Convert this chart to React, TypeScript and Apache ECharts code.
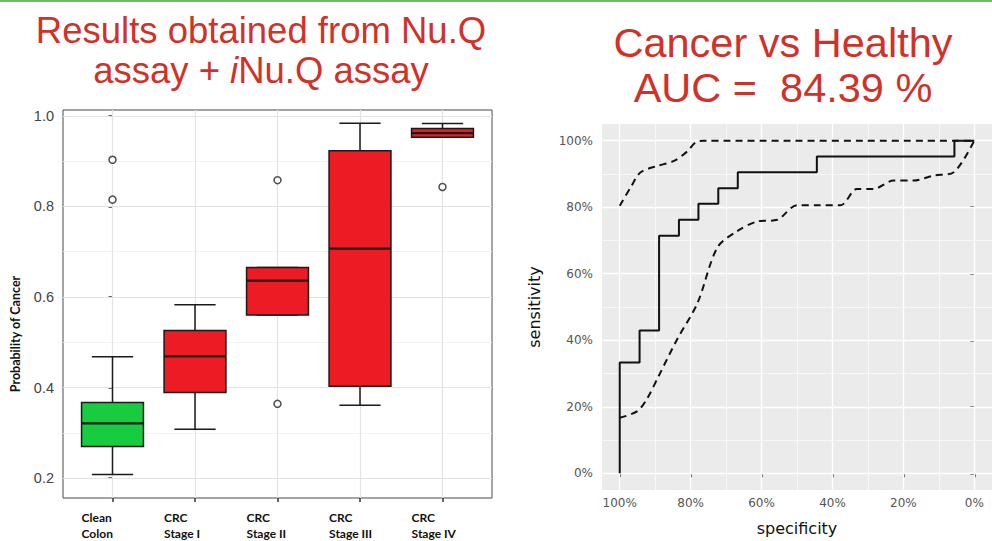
import React, { useEffect, useRef } from 'react';
import * as echarts from 'echarts';

// ---------- Left panel: box plot ----------
const groups = ['Clean\nColon', 'CRC\nStage I', 'CRC\nStage II', 'CRC\nStage III', 'CRC\nStage IV'];
const whiskerLow = [0.208, 0.308, 0.56, 0.361, 0.953];
const q1 = [0.27, 0.389, 0.56, 0.403, 0.953];
const median = [0.321, 0.469, 0.636, 0.707, 0.962];
const q3 = [0.367, 0.526, 0.665, 0.923, 0.972];
const whiskerHigh = [0.468, 0.583, 0.665, 0.984, 0.983];
const boxColors = ['#17cc3e', '#ed1c24', '#ed1c24', '#ed1c24', '#ed1c24'];
const outlierGroup = [0, 0, 2, 2, 4];
const outlierValue = [0.903, 0.815, 0.858, 0.364, 0.843];
const probTicks = [0.2, 0.4, 0.6, 0.8, 1.0];
const probMinor = [0.3, 0.5, 0.7, 0.9];

// ---------- Right panel: ROC curve ----------
const rocSpecificity = [100, 100, 94.4, 94.4, 88.9, 88.9, 83.3, 83.3, 77.8, 77.8, 72.2, 72.2, 66.7, 66.7, 44.4, 44.4, 5.6, 5.6, 0];
const rocSensitivity = [0, 33.3, 33.3, 42.9, 42.9, 71.4, 71.4, 76.2, 76.2, 81.0, 81.0, 85.7, 85.7, 90.5, 90.5, 95.2, 95.2, 100, 100];
const ciUpperSpecificity = [100, 96.9, 94.1, 89.4, 84.7, 80.9, 78.6, 76.3, 0];
const ciUpperSensitivity = [80.4, 86.0, 90.5, 92.4, 93.9, 96.8, 99.5, 100, 100];
const ciLowerSpecificity = [100, 95, 92.2, 88.9, 83.8, 78.1, 72.5, 66.9, 61.2, 55.6, 50, 44.3, 37.7, 33.1, 28.4, 22.7, 17.1, 11.5, 5.8, 0];
const ciLowerSensitivity = [16.7, 18.7, 22.6, 29.5, 40.3, 51.1, 67.8, 72.8, 75.7, 76.2, 80.6, 80.6, 80.6, 85.5, 85.5, 88, 88, 89.5, 90.5, 100];
const pctTicks = [0, 20, 40, 60, 80, 100];
const pctMinor = [10, 30, 50, 70, 90];

const zip = (a: number[], b: number[]) => a.map((v, i) => [v, b[i]]);

export default function App() {
  const ref = useRef<HTMLDivElement>(null);
  useEffect(() => {
    if (!ref.current) return;
    const chart = echarts.init(ref.current, undefined, { renderer: 'svg' });
    const boxData = groups.map((_, i) => [i, whiskerLow[i], q1[i], median[i], q3[i], whiskerHigh[i]]);
    const labelPos = groups.map((_, i) => i - 0.375);
    const titleColor = '#d0322a';
    const leftFont = '36.5px "Liberation Sans", Arial, sans-serif';
    const rightFont = '41.5px "Liberation Sans", Arial, sans-serif';
    const option: any = {
      animation: false,
      backgroundColor: '#ffffff',
      graphic: [
        { type: 'rect', shape: { x: 0, y: 0, width: 992, height: 2 }, style: { fill: '#6cbf5c' } },
        { type: 'text', x: 261, y: 30, style: { text: 'Results obtained from Nu.Q', fill: titleColor, font: leftFont, textAlign: 'center', textVerticalAlign: 'middle' } },
        { type: 'text', x: 261, y: 70, style: { text: 'assay + {i|i}Nu.Q assay', fill: titleColor, font: leftFont, textAlign: 'center', textVerticalAlign: 'middle', rich: { i: { fontStyle: 'italic', fontSize: 36.5, fontFamily: '"Liberation Sans", Arial, sans-serif', fill: titleColor } } } },
        { type: 'text', x: 783, y: 42, style: { text: 'Cancer vs Healthy', fill: titleColor, font: rightFont, textAlign: 'center', textVerticalAlign: 'middle' } },
        { type: 'text', x: 783, y: 87, style: { text: 'AUC =  84.39 %', fill: titleColor, font: rightFont, textAlign: 'center', textVerticalAlign: 'middle' } },
      ],
      grid: [
        { left: 63, top: 110, width: 429, height: 392, show: true, backgroundColor: '#ffffff', borderColor: '#4a4a4a', borderWidth: 1 },
        { left: 602, top: 124, width: 390, height: 373, show: true, backgroundColor: '#ebebeb', borderWidth: 0 },
      ],
      xAxis: [
        {
          gridIndex: 0, type: 'value', min: -0.6, max: 4.6,
          axisLine: { show: false }, splitLine: { show: false },
          axisTick: { show: true, customValues: [0, 1, 2, 3, 4], length: 4, lineStyle: { color: '#333', width: 1.5 } },
          axisLabel: {
            customValues: labelPos, align: 'left', verticalAlign: 'top', margin: 11,
            formatter: (v: number) => groups[Math.round(v + 0.375)] ?? '',
            fontFamily: 'Lato', fontWeight: 'bold', fontSize: 12, lineHeight: 16, color: '#111',
          },
        },
        {
          gridIndex: 1, type: 'value', inverse: true, min: -5, max: 105,
          axisLine: { show: false }, splitLine: { show: false },
          axisTick: { show: true, customValues: pctTicks, length: 4, lineStyle: { color: '#333', width: 1.5 } },
          axisLabel: { customValues: pctTicks, formatter: (v: number) => v + '%', margin: 7, fontFamily: 'DejaVu Sans', fontSize: 12, color: '#555' },
          name: 'specificity', nameLocation: 'middle', nameGap: 30,
          nameTextStyle: { fontFamily: 'DejaVu Sans', fontSize: 16, color: '#111' },
        },
      ],
      yAxis: [
        {
          gridIndex: 0, type: 'value', min: 0.156, max: 1.013,
          axisLine: { show: false }, splitLine: { show: false },
          axisTick: { show: true, customValues: probTicks, length: 4, lineStyle: { color: '#333', width: 1.5 } },
          axisLabel: { customValues: probTicks, formatter: (v: number) => v.toFixed(1), margin: 9, fontFamily: 'Liberation Sans', fontSize: 14.5, color: '#444' },
          name: 'Probability of Cancer', nameLocation: 'middle', nameGap: 41,
          nameTextStyle: { fontFamily: 'Lato', fontWeight: 'bold', fontSize: 12.5, color: '#111', padding: [0, 60, 0, 0] },
        },
        {
          gridIndex: 1, type: 'value', min: -5, max: 105,
          axisLine: { show: false }, splitLine: { show: false },
          axisTick: { show: true, customValues: pctTicks, length: 4, lineStyle: { color: '#333', width: 1.5 } },
          axisLabel: { customValues: pctTicks, formatter: (v: number) => v + '%', margin: 9, fontFamily: 'DejaVu Sans', fontSize: 12, color: '#555' },
          name: 'sensitivity', nameLocation: 'middle', nameGap: 60,
          nameTextStyle: { fontFamily: 'DejaVu Sans', fontSize: 16, color: '#111' },
        },
      ],
      series: [
        {
          name: 'grid-left', type: 'line', xAxisIndex: 0, yAxisIndex: 0, data: [], silent: true,
          markLine: {
            z: 1, silent: true, symbol: 'none', label: { show: false }, animation: false,
            data: [
              ...probTicks.map((v) => ({ yAxis: v, lineStyle: { color: '#e3e3e3', width: 1.2, type: 'solid' } })),
              ...probMinor.map((v) => ({ yAxis: v, lineStyle: { color: '#f0f0f0', width: 0.8, type: 'solid' } })),
              ...groups.map((_, i) => ({ xAxis: i, lineStyle: { color: '#e3e3e3', width: 1.2, type: 'solid' } })),
            ],
          },
        },
        {
          name: 'boxes', type: 'custom', xAxisIndex: 0, yAxisIndex: 0, z: 3,
          encode: { x: 0, y: [1, 2, 3, 4, 5] },
          data: boxData,
          renderItem: (params: any, api: any) => {
            const x = api.value(0);
            const pLo = api.coord([x, api.value(1)]);
            const pQ1 = api.coord([x, api.value(2)]);
            const pMed = api.coord([x, api.value(3)]);
            const pQ3 = api.coord([x, api.value(4)]);
            const pHi = api.coord([x, api.value(5)]);
            const halfBox = api.size([0.75, 0])[0] / 2;
            const halfCap = api.size([0.5, 0])[0] / 2;
            const cx = pLo[0];
            const stroke = '#1a1a1a';
            return {
              type: 'group',
              children: [
                { type: 'line', shape: { x1: cx, y1: pHi[1], x2: cx, y2: pQ3[1] }, style: { stroke, lineWidth: 1.5 } },
                { type: 'line', shape: { x1: cx, y1: pQ1[1], x2: cx, y2: pLo[1] }, style: { stroke, lineWidth: 1.5 } },
                { type: 'line', shape: { x1: cx - halfCap, y1: pHi[1], x2: cx + halfCap, y2: pHi[1] }, style: { stroke, lineWidth: 1.5 } },
                { type: 'line', shape: { x1: cx - halfCap, y1: pLo[1], x2: cx + halfCap, y2: pLo[1] }, style: { stroke, lineWidth: 1.5 } },
                { type: 'rect', shape: { x: cx - halfBox, y: pQ3[1], width: halfBox * 2, height: pQ1[1] - pQ3[1] }, style: { fill: boxColors[params.dataIndex], stroke, lineWidth: 1.5 } },
                { type: 'line', shape: { x1: cx - halfBox, y1: pMed[1], x2: cx + halfBox, y2: pMed[1] }, style: { stroke, lineWidth: 2.2 } },
              ],
            };
          },
        },
        {
          name: 'outliers', type: 'scatter', xAxisIndex: 0, yAxisIndex: 0, z: 4,
          data: zip(outlierGroup, outlierValue),
          symbol: 'circle', symbolSize: 7,
          itemStyle: { color: '#ffffff', borderColor: '#222', borderWidth: 1.5 },
        },
        {
          name: 'grid-right', type: 'line', xAxisIndex: 1, yAxisIndex: 1, data: [], silent: true,
          markLine: {
            z: 1, silent: true, symbol: 'none', label: { show: false }, animation: false,
            data: [
              ...pctTicks.map((v) => ({ yAxis: v, lineStyle: { color: '#ffffff', width: 1.3, type: 'solid' } })),
              ...pctMinor.map((v) => ({ yAxis: v, lineStyle: { color: '#ffffff', width: 0.6, type: 'solid' } })),
              ...pctTicks.map((v) => ({ xAxis: v, lineStyle: { color: '#ffffff', width: 1.3, type: 'solid' } })),
              ...pctMinor.map((v) => ({ xAxis: v, lineStyle: { color: '#ffffff', width: 0.6, type: 'solid' } })),
            ],
          },
        },
        {
          name: 'ROC', type: 'line', xAxisIndex: 1, yAxisIndex: 1, z: 4,
          data: zip(rocSpecificity, rocSensitivity), showSymbol: false,
          lineStyle: { color: '#111', width: 2 },
        },
        {
          name: 'CI upper', type: 'line', xAxisIndex: 1, yAxisIndex: 1, z: 3,
          data: zip(ciUpperSpecificity, ciUpperSensitivity), showSymbol: false, smooth: 0.3,
          lineStyle: { color: '#111', width: 2, type: [7, 5] },
        },
        {
          name: 'CI lower', type: 'line', xAxisIndex: 1, yAxisIndex: 1, z: 3,
          data: zip(ciLowerSpecificity, ciLowerSensitivity), showSymbol: false, smooth: 0.3,
          lineStyle: { color: '#111', width: 2, type: [7, 5] },
        },
      ],
    };
    chart.setOption(option);
    return () => chart.dispose();
  }, []);
  return <div ref={ref} style={{ position: 'fixed', left: 0, top: 0, width: 992, height: 541 }} />;
}
